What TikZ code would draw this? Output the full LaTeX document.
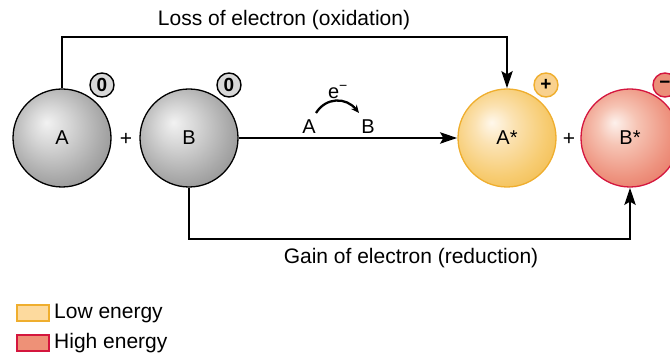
\documentclass[tikz,border=0pt]{standalone}
\usepackage{fontspec}
\setmainfont{Liberation Sans}
\usetikzlibrary{arrows.meta}
\definecolor{gA}{HTML}{F2F2F2}
\definecolor{gB}{HTML}{D6D6D6}
\definecolor{gC}{HTML}{ABABAB}
\definecolor{gD}{HTML}{8E8E8E}
\definecolor{oA}{HTML}{FFF8EC}
\definecolor{oB}{HTML}{FBE2B2}
\definecolor{oC}{HTML}{F7CC72}
\definecolor{oD}{HTML}{F2BC4E}
\definecolor{oLine}{HTML}{EFAE2E}
\definecolor{rA}{HTML}{FDF1EC}
\definecolor{rB}{HTML}{F6C4B4}
\definecolor{rC}{HTML}{EE9480}
\definecolor{rD}{HTML}{E77462}
\definecolor{rLine}{HTML}{D4163E}
\definecolor{badgeG}{HTML}{D8D8D8}
\definecolor{badgeO}{HTML}{F9D18E}
\definecolor{badgeR}{HTML}{EB8F79}
\definecolor{legO}{HTML}{FDDA9E}
\definecolor{legR}{HTML}{EE9177}
\pgfdeclareradialshading{graysph}{\pgfpoint{-8bp}{8bp}}{color(0bp)=(gA); color(10bp)=(gB); color(24bp)=(gC); color(34bp)=(gD); color(50bp)=(gD)}
\pgfdeclareradialshading{orangesph}{\pgfpoint{-8bp}{8bp}}{color(0bp)=(oA); color(10bp)=(oB); color(24bp)=(oC); color(34bp)=(oD); color(50bp)=(oD)}
\pgfdeclareradialshading{redsph}{\pgfpoint{-8bp}{8bp}}{color(0bp)=(rA); color(10bp)=(rB); color(24bp)=(rC); color(34bp)=(rD); color(50bp)=(rD)}
\tikzset{
  sph/.style={circle, minimum size=98pt, inner sep=0pt, line width=1.3pt, font=\fontsize{20}{22}\selectfont},
  graysphere/.style={sph, shading=graysph, draw=black},
  orangesphere/.style={sph, shading=orangesph, draw=oLine},
  redsphere/.style={sph, shading=redsph, draw=rLine},
  badge/.style={circle, minimum size=24pt, inner sep=0pt, line width=1.4pt, font=\fontsize{19}{21}\selectfont\bfseries},
  lbl/.style={inner sep=0pt, font=\fontsize{21}{23}\selectfont},
  plus/.style={inner sep=0pt, font=\fontsize{21}{23}\selectfont},
  conn/.style={line width=2.8pt, -{Stealth[length=17pt,width=11pt,inset=3pt]}},
  legbox/.style={minimum width=32pt, minimum height=16pt, inner sep=0pt, line width=1.2pt}
}
\begin{document}
\begin{tikzpicture}[x=1pt,y=-1pt]
\useasboundingbox (0,0) rectangle (670,355);
% spheres
\node[graysphere] (A) at (62,138) {A};
\node[graysphere] (B) at (189,138) {B};
\node[orangesphere] (As) at (507,138) {A*};
\node[redsphere] (Bs) at (630,138) {B*};
% plus signs
\node[plus] (p1) at (126,139) {+};
\node[plus] (p2) at (569,139) {+};
% badges
\node[badge, fill=badgeG, draw=black] (bA) at (102,85) {0};
\node[badge, fill=badgeG, draw=black] (bB) at (229,85) {0};
\node[badge, fill=badgeO, draw=oLine] (bAs) at (546,85) {+};
\node[badge, fill=badgeR, draw=rLine] (bBs) at (665,85) {\textminus};
% top connector
\coordinate (tl) at (62,37);
\coordinate (tr) at (507,37);
\draw[conn] (A.north) -- (tl) -- (tr) -- (As.north);
\node[lbl] (loss) at (284,20) {Loss of electron (oxidation)};
% bottom connector
\coordinate (bl) at (189,239);
\coordinate (br) at (630,239);
\draw[conn] (B.south) -- (bl) -- (br) -- (Bs.south);
\node[lbl] (gain) at (411,258) {Gain of electron (reduction)};
% middle arrow
\draw[conn] (B.east) -- (As.west);
\node[lbl, font=\fontsize{20}{22}\selectfont] (ma) at (309,127) {A};
\node[lbl, font=\fontsize{20}{22}\selectfont] (mb) at (368,127) {B};
\node[lbl, font=\fontsize{20}{22}\selectfont] (me) at (338,92) {e$^{\mbox{\fontsize{14}{15}\selectfont\textminus}}$};
\coordinate (ea) at (316,113);
\coordinate (eb) at (359,113);
\draw[line width=2.3pt, -{Stealth[length=8pt,width=7pt]}] (ea) .. controls (326,97) and (346,97) .. (eb);
% legend
\node[legbox, fill=legO, draw=oLine] (l1) at (33,313) {};
\node[lbl, anchor=west] (t1) at (54,313) {Low energy};
\node[legbox, fill=legR, draw=rLine] (l2) at (33,343) {};
\node[lbl, anchor=west] (t2) at (54,343) {High energy};
\end{tikzpicture}
\end{document}
